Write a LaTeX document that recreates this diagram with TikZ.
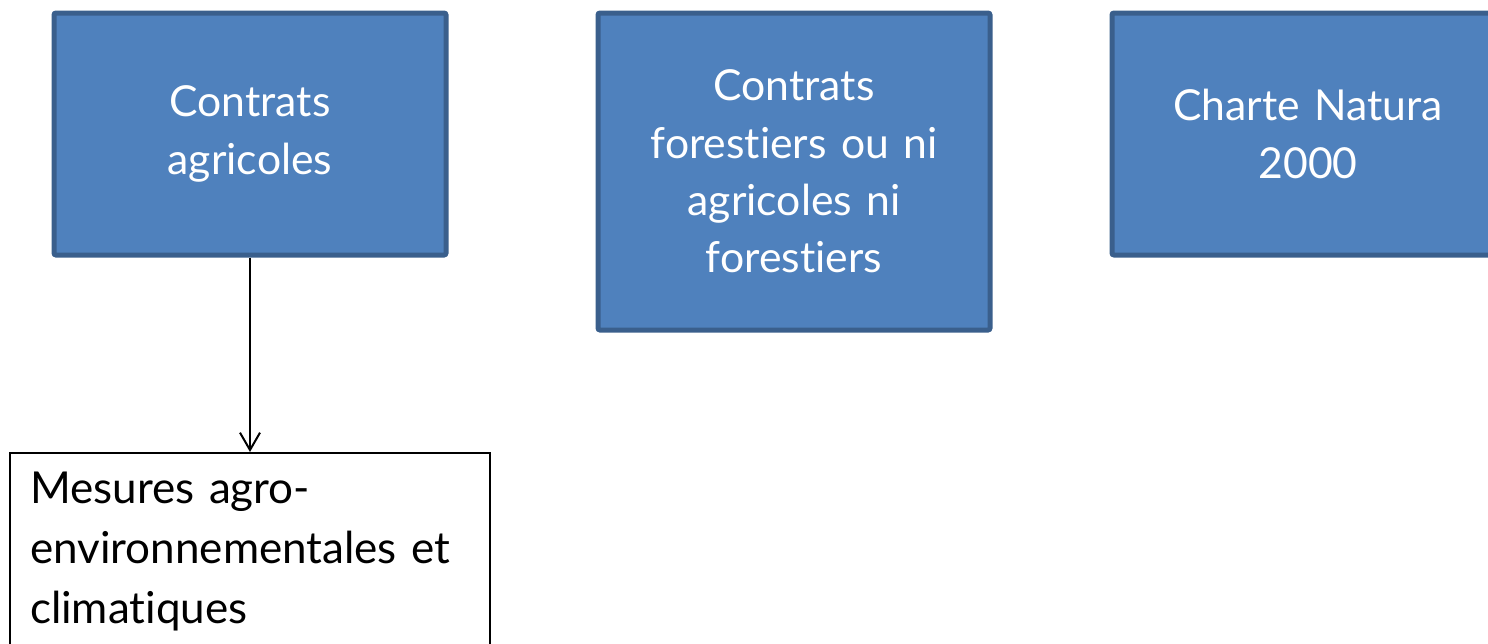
\documentclass[tikz,border=0pt]{standalone}
\usepackage{fontspec}
\setmainfont{Lato}[Ligatures=NoCommon]
\usetikzlibrary{arrows.meta}

\definecolor{boxblue}{HTML}{4F81BD}
\definecolor{boxedge}{HTML}{3A5F8C}

\begin{document}
\begin{tikzpicture}[x=0.75pt,y=-0.75pt,
  bluebox/.style={draw=boxedge,line width=3.75pt,fill=boxblue,rounded corners=1.5pt,
    text=white,align=center,minimum width=294pt,text width=270pt,
    font=\fontsize{32}{43}\selectfont},
  whitebox/.style={draw=black,line width=1.2pt,fill=white,align=left,
    text width=330pt,inner xsep=15pt,inner ysep=14pt,text depth=120pt,
    font=\fontsize{33}{45}\selectfont}]

\useasboundingbox (0,0) rectangle (1488,643);
\clip (0,0) rectangle (1488,643);

\node[bluebox,minimum height=181.5pt] (agri) at (250,134) {Contrats\\agricoles};

\node[bluebox,minimum height=237.75pt] (fore) at (794,171.5) {Contrats\\forestiers ou ni\\agricoles ni\\forestiers};

\node[bluebox,minimum height=181.5pt] (charte) at (1308,134) {Charte Natura\\2000};

\node[whitebox,anchor=north] (mae) at (250,452) {Mesures agro-\\environnementales et\\climatiques};

\draw[line width=1.5pt,-{Straight Barb[length=13pt,width=15pt,line width=1.5pt]}] (agri.south) -- (mae.north);

\end{tikzpicture}
\end{document}
